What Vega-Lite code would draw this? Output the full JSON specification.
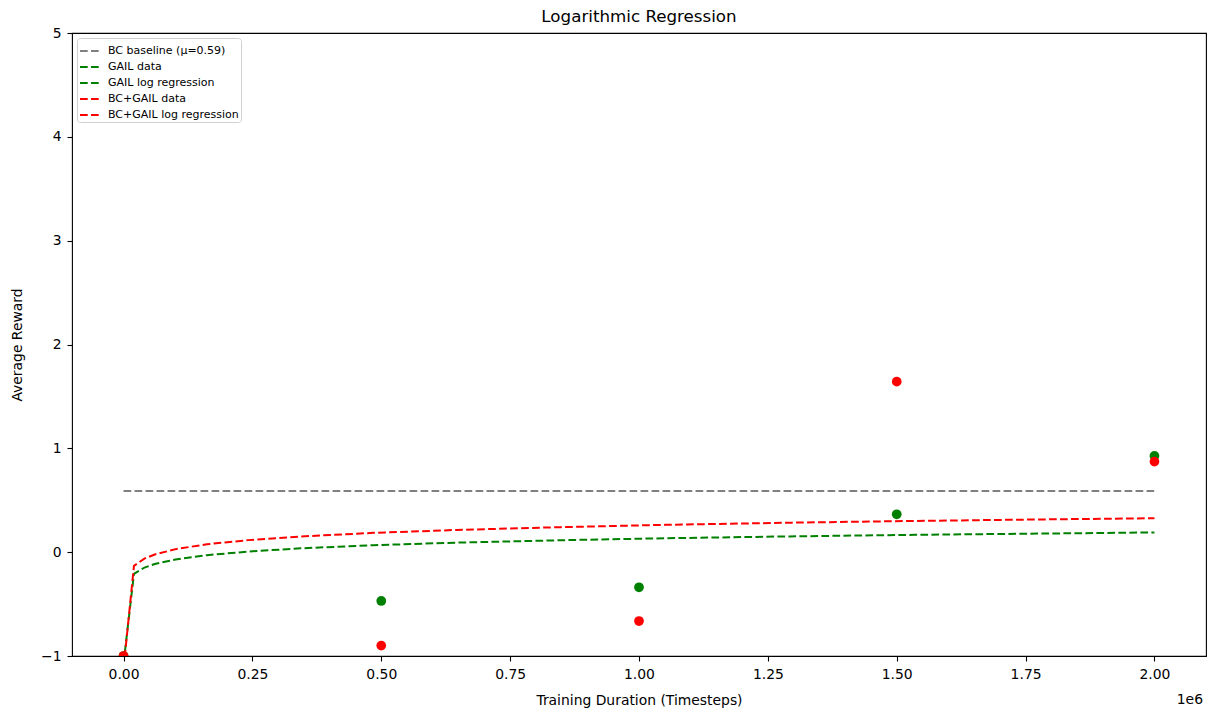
{
  "$schema": "https://vega.github.io/schema/vega-lite/v6.json",
  "width": 1134,
  "height": 623,
  "autosize": {"type": "none"},
  "padding": {"left": 72, "top": 33, "right": 9, "bottom": 55},
  "background": "white",
  "title": {"text": "Logarithmic Regression", "fontSize": 16.7, "fontWeight": "normal", "font": "DejaVu Sans", "color": "black", "baseline": "alphabetic", "frame": "group", "offset": 8, "dy": 21, "anchor": "middle"},
  "config": {
    "view": {"stroke": "black", "strokeWidth": 1.1},
    "font": "DejaVu Sans",
    "axis": {
      "grid": false, "domain": false, "tickColor": "black", "tickSize": 5, "tickWidth": 1.1,
      "labelFont": "DejaVu Sans", "labelFontSize": 13.9, "labelColor": "black", "labelPadding": 6,
      "titleFont": "DejaVu Sans", "titleFontSize": 13.9, "titleFontWeight": "normal", "titleColor": "black"
    }
  },
  "data": {"values": [
    {"series": "BC baseline (μ=0.59)", "kind": "fit", "x": 0, "y": 0.59},
    {"series": "BC baseline (μ=0.59)", "kind": "fit", "x": 2000000, "y": 0.59},
    {"series": "GAIL data", "kind": "data", "x": 0, "y": -1},
    {"series": "GAIL data", "kind": "data", "x": 500000, "y": -0.47},
    {"series": "GAIL data", "kind": "data", "x": 1000000, "y": -0.338},
    {"series": "GAIL data", "kind": "data", "x": 1500000, "y": 0.365},
    {"series": "GAIL data", "kind": "data", "x": 2000000, "y": 0.927},
    {"series": "BC+GAIL data", "kind": "data", "x": 0, "y": -1},
    {"series": "BC+GAIL data", "kind": "data", "x": 500000, "y": -0.9},
    {"series": "BC+GAIL data", "kind": "data", "x": 1000000, "y": -0.663},
    {"series": "BC+GAIL data", "kind": "data", "x": 1500000, "y": 1.642},
    {"series": "BC+GAIL data", "kind": "data", "x": 2000000, "y": 0.872},
    {"series": "GAIL log regression", "kind": "fit", "x": 0, "y": -1.07},
    {"series": "GAIL log regression", "kind": "fit", "x": 20202, "y": -0.209},
    {"series": "GAIL log regression", "kind": "fit", "x": 40404, "y": -0.149},
    {"series": "GAIL log regression", "kind": "fit", "x": 60606, "y": -0.114},
    {"series": "GAIL log regression", "kind": "fit", "x": 101010, "y": -0.07},
    {"series": "GAIL log regression", "kind": "fit", "x": 161616, "y": -0.029},
    {"series": "GAIL log regression", "kind": "fit", "x": 242424, "y": 0.006},
    {"series": "GAIL log regression", "kind": "fit", "x": 343434, "y": 0.037},
    {"series": "GAIL log regression", "kind": "fit", "x": 484848, "y": 0.067},
    {"series": "GAIL log regression", "kind": "fit", "x": 646465, "y": 0.092},
    {"series": "GAIL log regression", "kind": "fit", "x": 848485, "y": 0.115},
    {"series": "GAIL log regression", "kind": "fit", "x": 1050505, "y": 0.134},
    {"series": "GAIL log regression", "kind": "fit", "x": 1292929, "y": 0.152},
    {"series": "GAIL log regression", "kind": "fit", "x": 1535354, "y": 0.167},
    {"series": "GAIL log regression", "kind": "fit", "x": 1777778, "y": 0.179},
    {"series": "GAIL log regression", "kind": "fit", "x": 2000000, "y": 0.19},
    {"series": "BC+GAIL log regression", "kind": "fit", "x": 0, "y": -1.121},
    {"series": "BC+GAIL log regression", "kind": "fit", "x": 20202, "y": -0.132},
    {"series": "BC+GAIL log regression", "kind": "fit", "x": 40404, "y": -0.062},
    {"series": "BC+GAIL log regression", "kind": "fit", "x": 60606, "y": -0.022},
    {"series": "BC+GAIL log regression", "kind": "fit", "x": 101010, "y": 0.029},
    {"series": "BC+GAIL log regression", "kind": "fit", "x": 161616, "y": 0.076},
    {"series": "BC+GAIL log regression", "kind": "fit", "x": 242424, "y": 0.116},
    {"series": "BC+GAIL log regression", "kind": "fit", "x": 343434, "y": 0.151},
    {"series": "BC+GAIL log regression", "kind": "fit", "x": 484848, "y": 0.186},
    {"series": "BC+GAIL log regression", "kind": "fit", "x": 646465, "y": 0.214},
    {"series": "BC+GAIL log regression", "kind": "fit", "x": 848485, "y": 0.241},
    {"series": "BC+GAIL log regression", "kind": "fit", "x": 1050505, "y": 0.263},
    {"series": "BC+GAIL log regression", "kind": "fit", "x": 1292929, "y": 0.284},
    {"series": "BC+GAIL log regression", "kind": "fit", "x": 1535354, "y": 0.301},
    {"series": "BC+GAIL log regression", "kind": "fit", "x": 1777778, "y": 0.315},
    {"series": "BC+GAIL log regression", "kind": "fit", "x": 2000000, "y": 0.327}
  ]},
  "layer": [
    {"transform": [{"filter": "datum.kind == 'data'"}],
     "mark": {"type": "point", "filled": true, "size": 95, "opacity": 1, "clip": true},
     "encoding": {
      "x": {"field": "x", "type": "quantitative", "scale": {"domain": [-100000, 2100000], "nice": false, "zero": false},
        "axis": {"title": "Training Duration (Timesteps)", "values": [0, 250000, 500000, 750000, 1000000, 1250000, 1500000, 1750000, 2000000], "labelExpr": "format(datum.value / 1000000, '.2f')", "titlePadding": 13}},
      "y": {"field": "y", "type": "quantitative", "scale": {"domain": [-1, 5], "nice": false, "zero": false},
        "axis": {"title": "Average Reward", "values": [-1, 0, 1, 2, 3, 4, 5], "format": "d", "titlePadding": 16}},
      "color": {"field": "series", "type": "nominal",
        "scale": {"domain": ["BC baseline (μ=0.59)", "GAIL data", "GAIL log regression", "BC+GAIL data", "BC+GAIL log regression"], "range": ["#808080", "#008000", "#008000", "#ff0000", "#ff0000"]},
        "legend": {
          "title": null, "orient": "top-left", "offset": 5, "fillColor": "white", "strokeColor": "#d0d0d0", "cornerRadius": 3, "padding": 2,
          "labelFont": "DejaVu Sans", "labelFontSize": 11, "labelColor": "black", "labelOffset": 7, "rowPadding": 0,
          "symbolType": "stroke", "symbolSize": 400, "symbolStrokeWidth": 2, "symbolDash": [7.7, 3.3]
        }
      }
     }},
    {"transform": [{"filter": "datum.kind == 'fit'"}],
     "mark": {"type": "line", "strokeWidth": 2, "strokeDash": [7.7, 3.3], "clip": true},
     "encoding": {
      "x": {"field": "x", "type": "quantitative"},
      "y": {"field": "y", "type": "quantitative"},
      "color": {"field": "series", "type": "nominal"},
      "detail": {"field": "series"}
     }},
    {"data": {"values": [{"label": "1e6"}]},
     "mark": {"type": "text", "align": "right", "baseline": "top", "dy": 37, "dx": -3, "fontSize": 13.9, "font": "DejaVu Sans", "color": "black"},
     "encoding": {"x": {"datum": 2100000}, "y": {"datum": -1}, "text": {"field": "label"}}}
  ]
}
